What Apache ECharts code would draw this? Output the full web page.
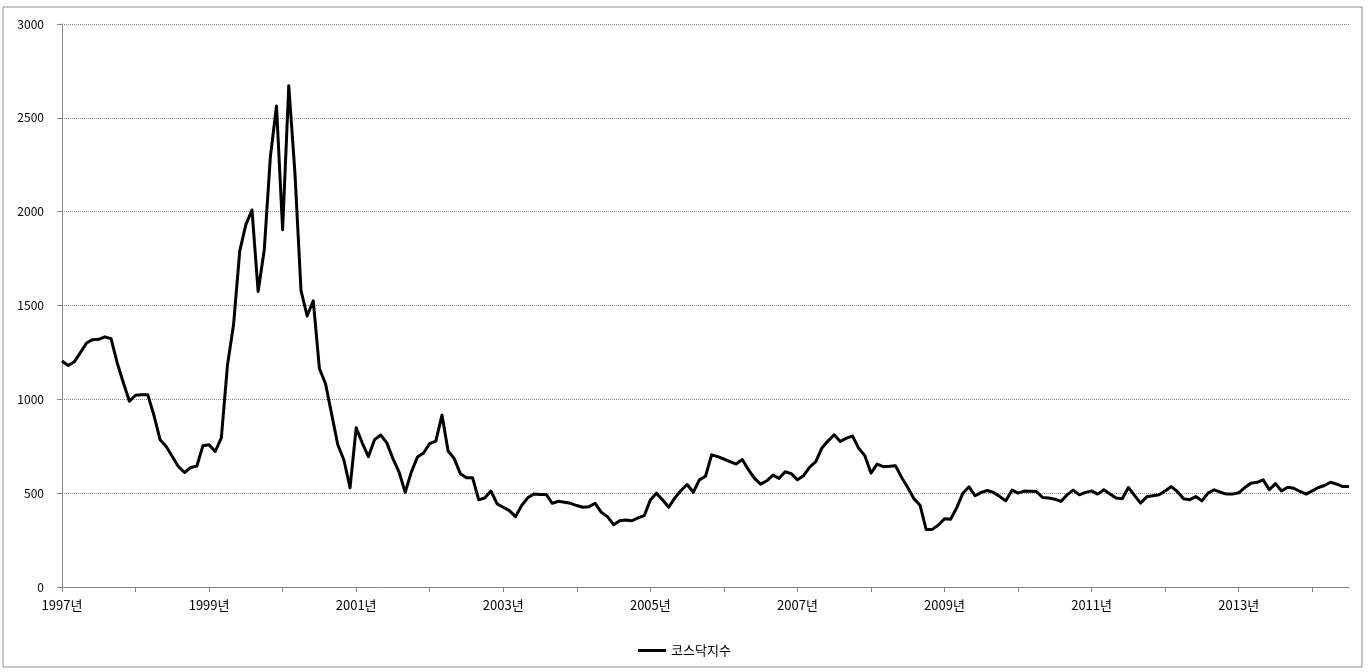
<!DOCTYPE html>
<html>
<head>
<meta charset="utf-8">
<script src="https://cdn.jsdelivr.net/npm/echarts@6/dist/echarts.min.js"></script>
<style>
html,body{margin:0;padding:0;background:#fff;}
#chart{width:1369px;height:672px;}
</style>
</head>
<body>
<div id="chart"></div>
<script>
// Monthly KOSDAQ index values, Jan..Dec per year
var v1997 = [1204, 1180, 1200, 1249, 1300, 1318, 1320, 1333, 1323, 1195, 1090, 990];
var v1998 = [1022, 1024, 1024, 915, 785, 749, 695, 641, 610, 637, 644, 753];
var v1999 = [758, 722, 794, 1182, 1400, 1790, 1931, 2009, 1575, 1796, 2292, 2563];
var v2000 = [1904, 2671, 2211, 1579, 1444, 1525, 1164, 1083, 921, 758, 677, 529];
var v2001 = [848, 767, 695, 785, 810, 768, 684, 612, 505, 612, 693, 714];
var v2002 = [764, 777, 916, 725, 684, 604, 582, 582, 464, 475, 511, 443];
var v2003 = [425, 407, 375, 434, 475, 496, 493, 493, 446, 457, 452, 446];
var v2004 = [434, 425, 428, 446, 398, 375, 332, 353, 357, 353, 368, 380];
var v2005 = [464, 500, 464, 425, 475, 514, 546, 505, 571, 590, 704, 695];
var v2006 = [682, 668, 655, 679, 625, 579, 548, 566, 596, 579, 614, 604];
var v2007 = [571, 593, 639, 668, 741, 779, 811, 775, 793, 804, 739, 700];
var v2008 = [607, 655, 641, 643, 646, 584, 530, 471, 436, 307, 307, 330];
var v2009 = [364, 361, 423, 500, 534, 486, 504, 514, 504, 482, 459, 516];
var v2010 = [500, 511, 510, 509, 477, 474, 468, 456, 491, 516, 491, 504];
var v2011 = [512, 495, 518, 496, 474, 470, 530, 488, 447, 481, 486, 491];
var v2012 = [512, 535, 509, 470, 465, 482, 459, 500, 518, 505, 495, 495];
var v2013 = [502, 530, 553, 558, 571, 518, 551, 512, 532, 526, 509, 495];
var v2014 = [512, 530, 541, 558, 548, 535, 535];

var startYear = 1997;
var seriesName = '코스닥지수';
var yearSuffix = '년';
var yTicks = [0, 500, 1000, 1500, 2000, 2500, 3000];

var values = [].concat(v1997, v1998, v1999, v2000, v2001, v2002, v2003, v2004, v2005,
  v2006, v2007, v2008, v2009, v2010, v2011, v2012, v2013, v2014);
var categories = values.map(function (_, i) {
  var y = startYear + Math.floor(i / 12);
  var m = (i % 12) + 1;
  return y + '-' + (m < 10 ? '0' + m : m);
});

var font = '"Noto Sans CJK KR", "Noto Sans", sans-serif';
var chart = echarts.init(document.getElementById('chart'), null, {renderer: 'canvas'});
chart.setOption({
  animation: false,
  backgroundColor: '#ffffff',
  graphic: [{
    type: 'rect',
    shape: {x: 3, y: 7, width: 1359, height: 660},
    style: {fill: 'none', stroke: '#8c8c8c', lineWidth: 1},
    silent: true
  }],
  grid: {left: 62, right: 20, top: 24, bottom: 85, containLabel: false},
  legend: {
    data: [seriesName],
    left: 'center',
    top: 639,
    icon: 'rect',
    itemWidth: 28,
    itemHeight: 3,
    itemGap: 4,
    textStyle: {fontFamily: font, fontSize: 13, color: '#000'}
  },
  xAxis: {
    type: 'category',
    data: categories,
    boundaryGap: false,
    axisLine: {show: true, lineStyle: {color: '#868686', width: 1}},
    axisTick: {
      show: true, length: 5, inside: false,
      interval: function (idx) { return idx % 12 === 0; },
      lineStyle: {color: '#868686'}
    },
    axisLabel: {
      interval: function (idx) { return idx % 24 === 0; },
      formatter: function (val) { return val.slice(0, 4) + yearSuffix; },
      margin: 12,
      fontFamily: font, fontSize: 13, color: '#000'
    },
    splitLine: {show: false}
  },
  yAxis: {
    type: 'value',
    min: yTicks[0],
    max: yTicks[yTicks.length - 1],
    interval: 500,
    axisLine: {show: true, lineStyle: {color: '#868686', width: 1}},
    axisTick: {show: true, length: 5, lineStyle: {color: '#868686'}},
    axisLabel: {
      margin: 18, fontFamily: font, fontSize: 12, color: '#000',
      formatter: function (v) { return String(v); }
    },
    splitLine: {show: true, lineStyle: {color: '#8a8a8a', type: [1, 1], width: 1}}
  },
  series: [{
    name: seriesName,
    type: 'line',
    data: values,
    showSymbol: false,
    symbol: 'none',
    color: '#000',
    lineStyle: {color: '#000', width: 3, join: 'round'},
    smooth: false
  }]
});
</script>
</body>
</html>
